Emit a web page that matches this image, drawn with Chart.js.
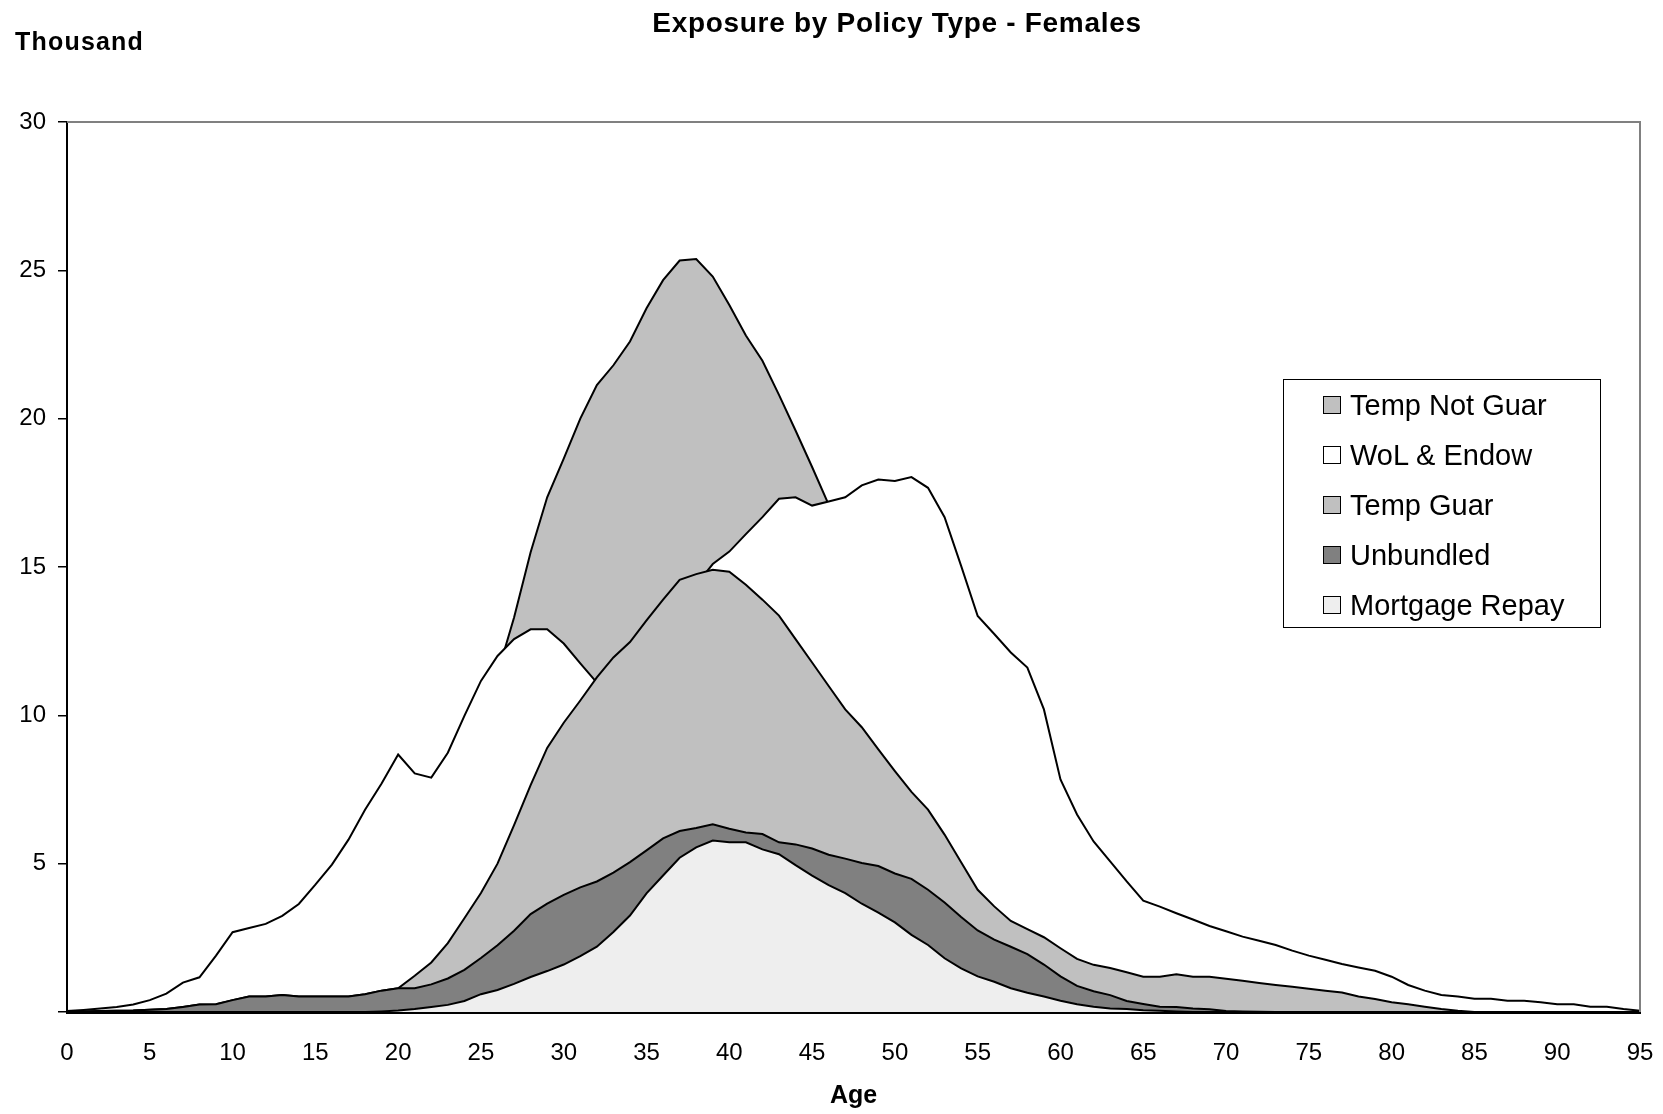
<!DOCTYPE html>
<html>
<head>
<meta charset="utf-8">
<script src="https://cdn.jsdelivr.net/npm/chart.js@4.4.1/dist/chart.umd.min.js"></script>
<style>
  html, body { margin: 0; padding: 0; background: #ffffff; }
  #wrap { position: relative; width: 1663px; height: 1114px; font-family: "Liberation Sans", Arial, sans-serif; color: #000; }
  #c { position: absolute; left: 0; top: 0; }
  .txt { position: absolute; white-space: nowrap; }
  #title { left: 0; width: 1794px; text-align: center; top: 9px; font-size: 28px; line-height: 28px; font-weight: bold; letter-spacing: 0.7px; }
  #unit { left: 15px; top: 29px; font-size: 25px; line-height: 25px; font-weight: bold; letter-spacing: 1.2px; }
  #legend { position: absolute; left: 1283px; top: 379px; width: 318px; height: 249px; box-sizing: border-box; border: 1.5px solid #000; background: #fff; }
  .lrow { position: absolute; left: 0; height: 50px; line-height: 50px; font-size: 29px; white-space: nowrap; }
  .sw { position: absolute; left: 39px; top: 16px; width: 18px; height: 18px; box-sizing: border-box; border: 1.5px solid #000; }
  .lt { position: absolute; left: 66px; top: 0; }
</style>
</head>
<body>
<div id="wrap">
  <canvas id="c" width="1663" height="1114"></canvas>
  <div id="title" class="txt">Exposure by Policy Type - Females</div>
  <div id="unit" class="txt">Thousand</div>
  <div id="legend"></div>
</div>
<script>
// Categories: age
const ages = [0,1,2,3,4,5,6,7,8,9,10,11,12,13,14,15,16,17,18,19,20,21,22,23,24,25,26,27,28,29,30,31,32,33,34,35,36,37,38,39,40,41,42,43,44,45,46,47,48,49,50,51,52,53,54,55,56,57,58,59,60,61,62,63,64,65,66,67,68,69,70,71,72,73,74,75,76,77,78,79,80,81,82,83,84,85,86,87,88,89,90,91,92,93,94,95];

// Series values (thousands), one per age 0..95
const tempNotGuar = [0,0,0,0,0,0,0,0,0,0,0,0,0.05,0.1,0.2,0.3,0.5,0.8,1.2,1.8,2.6,3.6,4.8,6.2,7.8,9.6,11.4,13.3,15.5,17.35,18.65,20.0,21.13,21.8,22.6,23.72,24.67,25.33,25.38,24.79,23.83,22.8,21.95,20.8,19.6,18.37,17.1,15.9,14.7,13.5,12.3,11.1,9.9,8.7,7.5,6.4,5.4,4.5,3.7,3.0,2.4,1.9,1.5,1.2,0.95,0.75,0.6,0.5,0.4,0.35,0.3,0.25,0.2,0.2,0.15,0.15,0.1,0.1,0.1,0.05,0.05,0,0,0,0,0,0,0,0,0,0,0,0,0,0,0];
const wolEndow = [0.03,0.07,0.12,0.17,0.25,0.4,0.62,0.99,1.17,1.9,2.69,2.83,2.97,3.24,3.64,4.29,4.97,5.81,6.82,7.7,8.68,8.04,7.9,8.74,9.98,11.16,12.0,12.57,12.9,12.9,12.42,11.75,11.1,11.3,11.8,12.4,13.1,13.8,14.4,15.1,15.52,16.11,16.68,17.3,17.35,17.07,17.21,17.35,17.75,17.95,17.9,18.03,17.67,16.68,15.04,13.35,12.74,12.12,11.61,10.2,7.84,6.66,5.75,5.08,4.4,3.75,3.55,3.33,3.12,2.9,2.72,2.54,2.4,2.26,2.07,1.9,1.76,1.62,1.5,1.39,1.19,0.91,0.72,0.57,0.52,0.45,0.45,0.38,0.38,0.33,0.26,0.26,0.18,0.18,0.1,0.04];
const tempGuar = [0,0.02,0.03,0.04,0.05,0.08,0.1,0.17,0.25,0.26,0.4,0.52,0.52,0.57,0.52,0.52,0.52,0.52,0.6,0.72,0.8,1.22,1.67,2.32,3.16,4.01,5.0,6.3,7.65,8.9,9.75,10.5,11.28,11.95,12.47,13.2,13.9,14.57,14.76,14.91,14.84,14.4,13.9,13.36,12.57,11.78,10.99,10.2,9.6,8.85,8.12,7.42,6.82,5.98,5.05,4.12,3.56,3.07,2.79,2.52,2.15,1.79,1.59,1.48,1.34,1.19,1.19,1.27,1.19,1.19,1.12,1.05,0.98,0.91,0.85,0.78,0.72,0.66,0.52,0.44,0.33,0.26,0.18,0.1,0.04,0,0,0,0,0,0,0,0,0,0,0];
const unbundled = [0,0.02,0.03,0.04,0.05,0.08,0.1,0.17,0.25,0.26,0.4,0.52,0.52,0.57,0.52,0.52,0.52,0.52,0.6,0.72,0.8,0.8,0.93,1.13,1.42,1.82,2.25,2.74,3.3,3.65,3.95,4.2,4.4,4.7,5.05,5.45,5.85,6.1,6.2,6.33,6.18,6.05,6.0,5.72,5.65,5.51,5.3,5.17,5.02,4.92,4.67,4.49,4.12,3.69,3.2,2.75,2.44,2.2,1.95,1.6,1.2,0.88,0.7,0.57,0.37,0.27,0.18,0.17,0.12,0.09,0.03,0.02,0.01,0,0,0,0,0,0,0,0,0,0,0,0,0,0,0,0,0,0,0,0,0,0,0];
const mortgageRepay = [0,0,0,0,0,0,0,0,0,0,0,0,0,0,0,0,0,0,0,0.02,0.05,0.1,0.17,0.24,0.37,0.6,0.74,0.95,1.18,1.38,1.6,1.88,2.2,2.7,3.25,4.0,4.6,5.2,5.55,5.78,5.72,5.72,5.48,5.32,4.95,4.6,4.28,4.01,3.65,3.35,3.02,2.6,2.26,1.81,1.47,1.2,1.02,0.8,0.65,0.52,0.38,0.26,0.18,0.12,0.1,0.06,0.04,0.02,0,0,0,0,0,0,0,0,0,0,0,0,0,0,0,0,0,0,0,0,0,0,0,0,0,0,0,0];

// Series names (legend order) and fill colours
const seriesNames = ["Temp Not Guar", "WoL & Endow", "Temp Guar", "Unbundled", "Mortgage Repay"];
const seriesColors = ["#c0c0c0", "#ffffff", "#c0c0c0", "#808080", "#eeeeee"];
const seriesData = [tempNotGuar, wolEndow, tempGuar, unbundled, mortgageRepay];

// Axis ticks
const yTicks = [0, 5, 10, 15, 20, 25, 30];
const xTickStep = 5;

const datasets = seriesNames.map((name, i) => ({
  label: name,
  data: seriesData[i],
  backgroundColor: seriesColors[i],
  borderColor: "#000000",
  borderWidth: 2,
  fill: "origin",
  pointRadius: 0,
  tension: 0,
  order: seriesNames.length - i   // first series drawn at the back
}));

const frame = {
  id: "frame",
  afterDraw(chart) {
    const { ctx, chartArea: a } = chart;
    ctx.save();
    ctx.strokeStyle = "#808080";
    ctx.lineWidth = 2;
    ctx.beginPath();
    ctx.moveTo(a.left, a.top);
    ctx.lineTo(a.right, a.top);
    ctx.lineTo(a.right, a.bottom);
    ctx.stroke();
    ctx.restore();
  }
};

new Chart(document.getElementById("c"), {
  type: "line",
  data: { labels: ages, datasets },
  options: {
    responsive: false,
    animation: false,
    devicePixelRatio: 1,
    layout: { padding: { left: 0, top: 122, right: 23, bottom: 0 } },
    plugins: { legend: { display: false }, title: { display: false }, tooltip: { enabled: false } },
    scales: {
      x: {
        type: "category",
        afterFit(scale) { scale.height = 102; scale.paddingLeft = 0; scale.paddingRight = 0; },
        grid: { drawOnChartArea: false, drawTicks: false },
        border: { display: true, color: "#000", width: 3 },
        ticks: {
          autoSkip: false, maxRotation: 0, padding: 27, color: "#000",
          font: { family: "'Liberation Sans', Arial, sans-serif", size: 24 },
          callback(v, i) { return ages[i] % xTickStep === 0 ? String(ages[i]) : ""; }
        },
        title: {
          display: true, text: "Age", color: "#000",
          font: { family: "'Liberation Sans', Arial, sans-serif", size: 25, weight: "bold" },
          padding: { top: 0, bottom: 3 }
        }
      },
      y: {
        min: yTicks[0], max: yTicks[yTicks.length - 1],
        afterFit(scale) { scale.width = 67; },
        afterBuildTicks(scale) { scale.ticks = yTicks.map(v => ({ value: v })); },
        grid: { drawOnChartArea: false, drawTicks: true, tickLength: 9, color: "#000", lineWidth: 1.5 },
        border: { display: true, color: "#000", width: 2 },
        ticks: {
          padding: 12, color: "#000",
          font: { family: "'Liberation Sans', Arial, sans-serif", size: 24 },
          callback(v) { return v === 0 ? "" : String(v); }
        }
      }
    }
  },
  plugins: [frame]
});

// Legend built from the series arrays
const lg = document.getElementById("legend");
seriesNames.forEach((name, i) => {
  const row = document.createElement("div");
  row.className = "lrow";
  row.style.top = (i * 50) + "px";
  const sw = document.createElement("div");
  sw.className = "sw";
  sw.style.background = seriesColors[i];
  const t = document.createElement("div");
  t.className = "lt";
  t.textContent = name;
  row.appendChild(sw);
  row.appendChild(t);
  lg.appendChild(row);
});
</script>
</body>
</html>
